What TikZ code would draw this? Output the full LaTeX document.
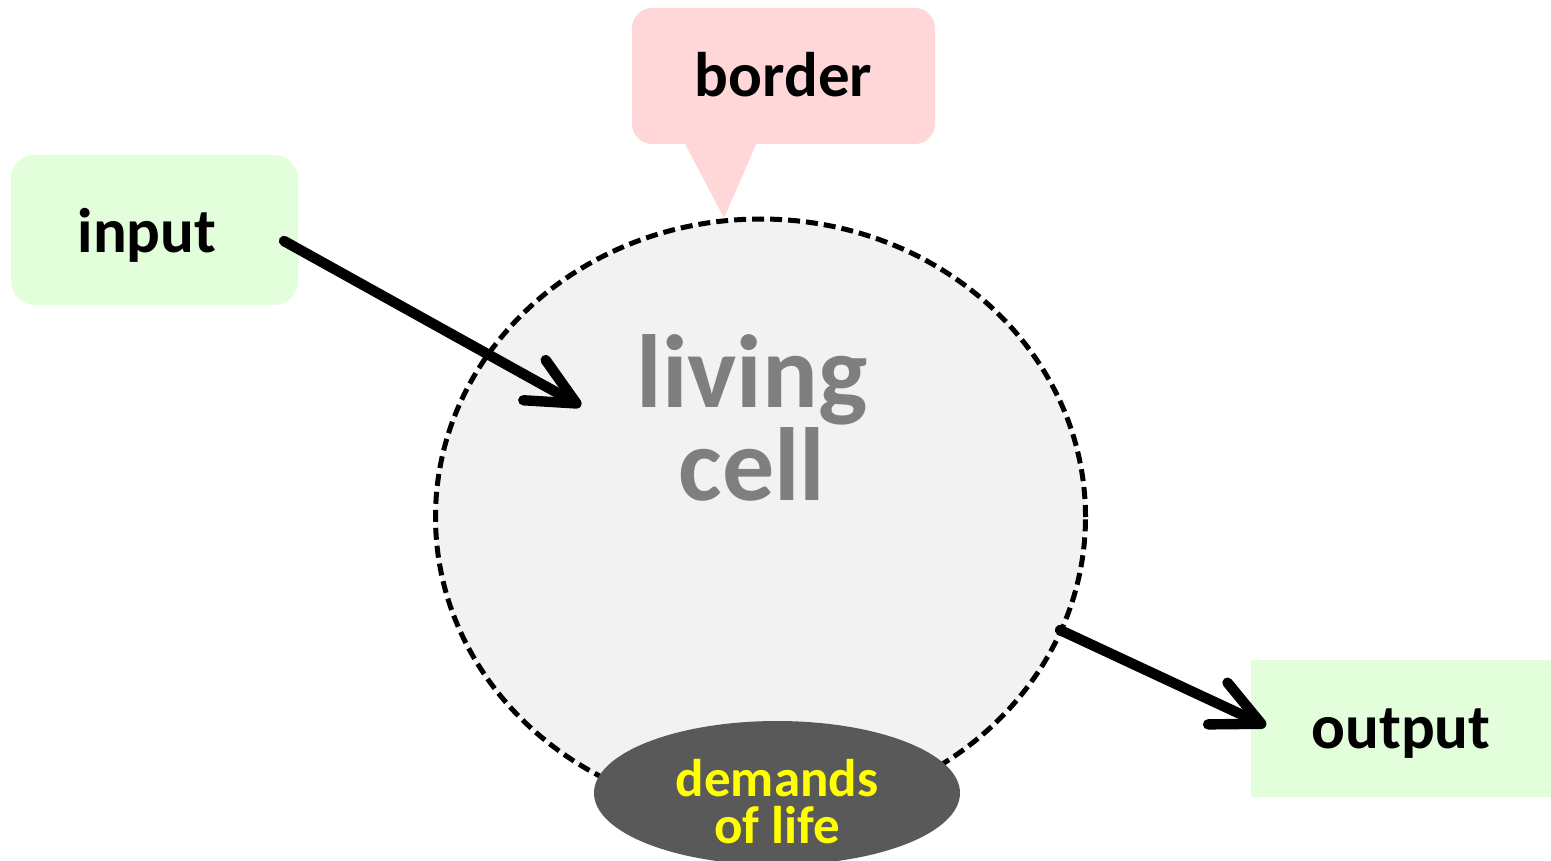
\documentclass[tikz,border=0pt]{standalone}
\usepackage{fontspec}
\setmainfont{Carlito}
\usetikzlibrary{arrows.meta,shapes.geometric}
\definecolor{boxgreen}{HTML}{E2FEDA}
\definecolor{boxpink}{HTML}{FFD7D8}
\definecolor{cellfill}{HTML}{F2F2F2}
\definecolor{demfill}{HTML}{595959}
\definecolor{celltext}{HTML}{7F7F7F}
\definecolor{demtext}{HTML}{FFFF00}
\tikzset{
  lbl/.style={font=\fontsize{31.5}{36}\selectfont\bfseries, text=black, inner sep=0pt, text depth=0pt},
  flow/.style={line width=5.2pt, line cap=round, line join=round,
    -{Straight Barb[length=24pt,width=23pt,round]}},
}
\begin{document}
\begin{tikzpicture}[x=0.5pt,y=-0.5pt]
\useasboundingbox (0,0) rectangle (1551,861);
% living cell
\node[ellipse, draw=black, line width=2.5pt, dash pattern=on 6pt off 3pt, fill=cellfill,
  minimum width=325pt, minimum height=298pt, inner sep=0pt] (cell) at (760.5,517) {};
\node[font=\fontsize{52}{42}\selectfont\bfseries, text=celltext, align=center, inner sep=0pt,
  anchor=base] (celltxt) at (752,500) {living\\cell};
% callout
\fill[boxpink, rounded corners=10pt] (632,8) rectangle (935,144);
\fill[boxpink] (683,140) -- (758,140) -- (724,218) -- cycle;
\node[lbl, text height=21pt, minimum width=151.5pt, minimum height=68pt] (border) at (783.5,76) {border};
% input box
\fill[boxgreen, rounded corners=12pt] (11,155) rectangle (298,305);
\node[lbl, text height=22pt, minimum width=143.5pt, minimum height=75pt] (input) at (147,230) {input};
% output box
\node[lbl, text height=19.5pt, fill=boxgreen, minimum width=150pt, minimum height=68.5pt] (output) at (1401,728.5) {output};
% arrows
\coordinate (inStart) at (284,241);
\coordinate (inEnd) at (581,406);
\coordinate (outStart) at (1060,630);
\coordinate (outEnd) at (1266,726);
\draw[flow] (inStart) -- (inEnd);
\draw[flow] (outStart) -- (outEnd);
% demands of life
\node[ellipse, fill=demfill, minimum width=183pt, minimum height=72pt, inner sep=0pt] (demands) at (777,793) {};
\node[font=\fontsize{26.5}{23.5}\selectfont\bfseries, text=demtext, align=center, inner sep=0pt,
  anchor=base] (demtxt) at (777,843) {demands\\of life};
\end{tikzpicture}
\end{document}
